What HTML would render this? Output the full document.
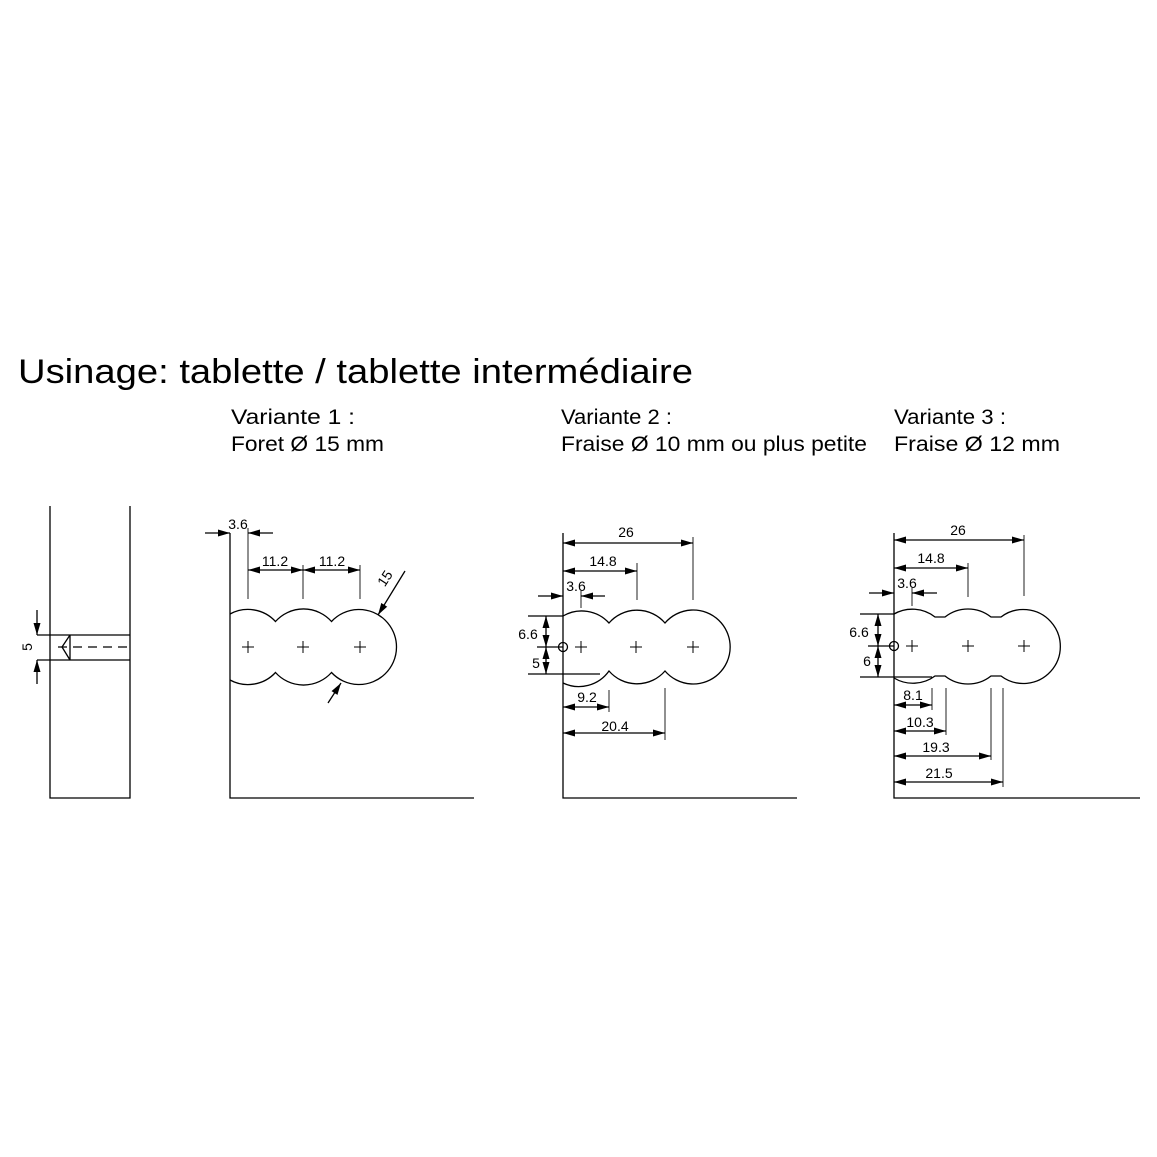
<!DOCTYPE html>
<html><head><meta charset="utf-8"><style>
html,body{margin:0;padding:0;background:#fff;}
svg{display:block;}
text{font-family:"Liberation Sans",sans-serif;fill:#000;}
</style></head><body>
<svg width="1157" height="1157" viewBox="0 0 1157 1157" xmlns="http://www.w3.org/2000/svg">
<defs>
<marker id="a" markerUnits="userSpaceOnUse" markerWidth="13" markerHeight="8" refX="12" refY="4" orient="auto-start-reverse">
<path d="M0,0.5 L12,4 L0,7.5 z" fill="#000"/></marker>
</defs>
<text x="18" y="383" font-size="34" textLength="675" lengthAdjust="spacingAndGlyphs">Usinage: tablette / tablette intermédiaire</text>
<text x="231" y="424" font-size="21" textLength="124" lengthAdjust="spacingAndGlyphs">Variante 1 :</text>
<text x="231" y="451" font-size="21" textLength="153" lengthAdjust="spacingAndGlyphs">Foret Ø 15 mm</text>
<text x="561" y="424" font-size="21" textLength="111" lengthAdjust="spacingAndGlyphs">Variante 2 :</text>
<text x="561" y="451" font-size="21" textLength="306" lengthAdjust="spacingAndGlyphs">Fraise Ø 10 mm ou plus petite</text>
<text x="894" y="424" font-size="21" textLength="112" lengthAdjust="spacingAndGlyphs">Variante 3 :</text>
<text x="894" y="451" font-size="21" textLength="166" lengthAdjust="spacingAndGlyphs">Fraise Ø 12 mm</text>

<g stroke="#000" stroke-width="1.3" fill="none">
<!-- section -->
<path d="M50,506 V798 H130 V506"/>
<path d="M37,635 H130 M37,660 H130 M70,635 V660 M70,635 L62,647 L70,660"/>
<path d="M58,647 H130" stroke-dasharray="9,6"/>
<line x1="37" y1="610" x2="37" y2="635" marker-end="url(#a)"/>
<line x1="37" y1="684" x2="37" y2="660" marker-end="url(#a)"/>

<!-- V1 -->
<path d="M230,533 V798 H474"/>
<path d="M230,614 A37.5,37.5 0 0 1 275.5,621.5 A37.5,37.5 0 0 1 331.5,621.5 A37.5,37.5 0 1 1 331.5,672.5 A37.5,37.5 0 0 1 275.5,672.5 A37.5,37.5 0 0 1 230,680"/>
<path d="M242,647 H254 M248,641 V653 M297,647 H309 M303,641 V653 M354,647 H366 M360,641 V653" stroke-width="1"/>
<path d="M248,528 V599 M303,565 V599 M360,565 V599" stroke="#555"/>
<line x1="205" y1="533" x2="230" y2="533" marker-end="url(#a)"/>
<line x1="273" y1="533" x2="248" y2="533" marker-end="url(#a)"/>
<line x1="248" y1="570" x2="303" y2="570" marker-start="url(#a)" marker-end="url(#a)"/>
<line x1="303" y1="570" x2="360" y2="570" marker-start="url(#a)" marker-end="url(#a)"/>
<line x1="405" y1="571" x2="378" y2="615" marker-end="url(#a)"/>
<line x1="328" y1="703" x2="341" y2="683" marker-end="url(#a)"/>

<!-- V2 -->
<path d="M563,533 V798 H797"/>
<path d="M563,616 A37,37 0 0 1 609,623 A37,37 0 0 1 665,623 A37,37 0 1 1 665,671 A37,37 0 0 1 609,671 A37,37 0 0 1 563,683"/>
<circle cx="563" cy="647" r="4.5"/>
<path d="M575,647 H587 M581,641 V653 M630,647 H642 M636,641 V653 M687,647 H699 M693,641 V653" stroke-width="1"/>
<path d="M693,537 V600 M637,563 V600 M581,591 V608 M609,690 V712 M665,688 V740" stroke="#555"/>
<path d="M528,616 H563 M537,647 H563 M528,674 H600"/>
<line x1="563" y1="543" x2="693" y2="543" marker-start="url(#a)" marker-end="url(#a)"/>
<line x1="563" y1="571" x2="637" y2="571" marker-start="url(#a)" marker-end="url(#a)"/>
<line x1="538" y1="596" x2="563" y2="596" marker-end="url(#a)"/>
<line x1="605" y1="596" x2="581" y2="596" marker-end="url(#a)"/>
<line x1="546" y1="616" x2="546" y2="647" marker-start="url(#a)" marker-end="url(#a)"/>
<line x1="546" y1="647" x2="546" y2="674" marker-start="url(#a)" marker-end="url(#a)"/>
<line x1="563" y1="707" x2="609" y2="707" marker-start="url(#a)" marker-end="url(#a)"/>
<line x1="563" y1="733" x2="665" y2="733" marker-start="url(#a)" marker-end="url(#a)"/>

<!-- V3 -->
<path d="M894,533 V798 H1140"/>
<path d="M894,614 A37,37 0 0 1 935,617 H945 A37,37 0 0 1 991,617 H1001 A37,37 0 1 1 1001,676 H991 A37,37 0 0 1 945,676 H935 A37,37 0 0 1 894,678"/>
<circle cx="894" cy="646" r="4.5"/>
<path d="M906,646 H918 M912,640 V652 M962,646 H974 M968,640 V652 M1018,646 H1030 M1024,640 V652" stroke-width="1"/>
<path d="M1024,535 V596 M968,563 V597 M912,588 V606 M932,688 V710 M946,688 V735 M991,688 V760 M1003,688 V787" stroke="#555"/>
<path d="M860,614 H894 M868,646 H894 M860,677 H932"/>
<line x1="894" y1="540" x2="1024" y2="540" marker-start="url(#a)" marker-end="url(#a)"/>
<line x1="894" y1="568" x2="968" y2="568" marker-start="url(#a)" marker-end="url(#a)"/>
<line x1="869" y1="593" x2="894" y2="593" marker-end="url(#a)"/>
<line x1="937" y1="593" x2="912" y2="593" marker-end="url(#a)"/>
<line x1="878" y1="614" x2="878" y2="646" marker-start="url(#a)" marker-end="url(#a)"/>
<line x1="878" y1="646" x2="878" y2="677" marker-start="url(#a)" marker-end="url(#a)"/>
<line x1="894" y1="705" x2="932" y2="705" marker-start="url(#a)" marker-end="url(#a)"/>
<line x1="894" y1="731" x2="946" y2="731" marker-start="url(#a)" marker-end="url(#a)"/>
<line x1="894" y1="756" x2="991" y2="756" marker-start="url(#a)" marker-end="url(#a)"/>
<line x1="894" y1="782" x2="1003" y2="782" marker-start="url(#a)" marker-end="url(#a)"/>
</g>

<g font-size="14" text-anchor="middle">
<text x="32" y="647" transform="rotate(-90 32 647)">5</text>
<text x="238" y="529">3.6</text>
<text x="275" y="566">11.2</text>
<text x="332" y="566">11.2</text>
<text x="389" y="581" transform="rotate(-57 389 581)">15</text>
<text x="626" y="537">26</text>
<text x="603" y="566">14.8</text>
<text x="576" y="591">3.6</text>
<text x="528" y="639">6.6</text>
<text x="536" y="668">5</text>
<text x="587" y="702">9.2</text>
<text x="615" y="731">20.4</text>
<text x="958" y="535">26</text>
<text x="931" y="563">14.8</text>
<text x="907" y="588">3.6</text>
<text x="859" y="637">6.6</text>
<text x="867" y="666">6</text>
<text x="913" y="700">8.1</text>
<text x="920" y="727">10.3</text>
<text x="936" y="752">19.3</text>
<text x="939" y="778">21.5</text>
</g>
</svg>
</body></html>
